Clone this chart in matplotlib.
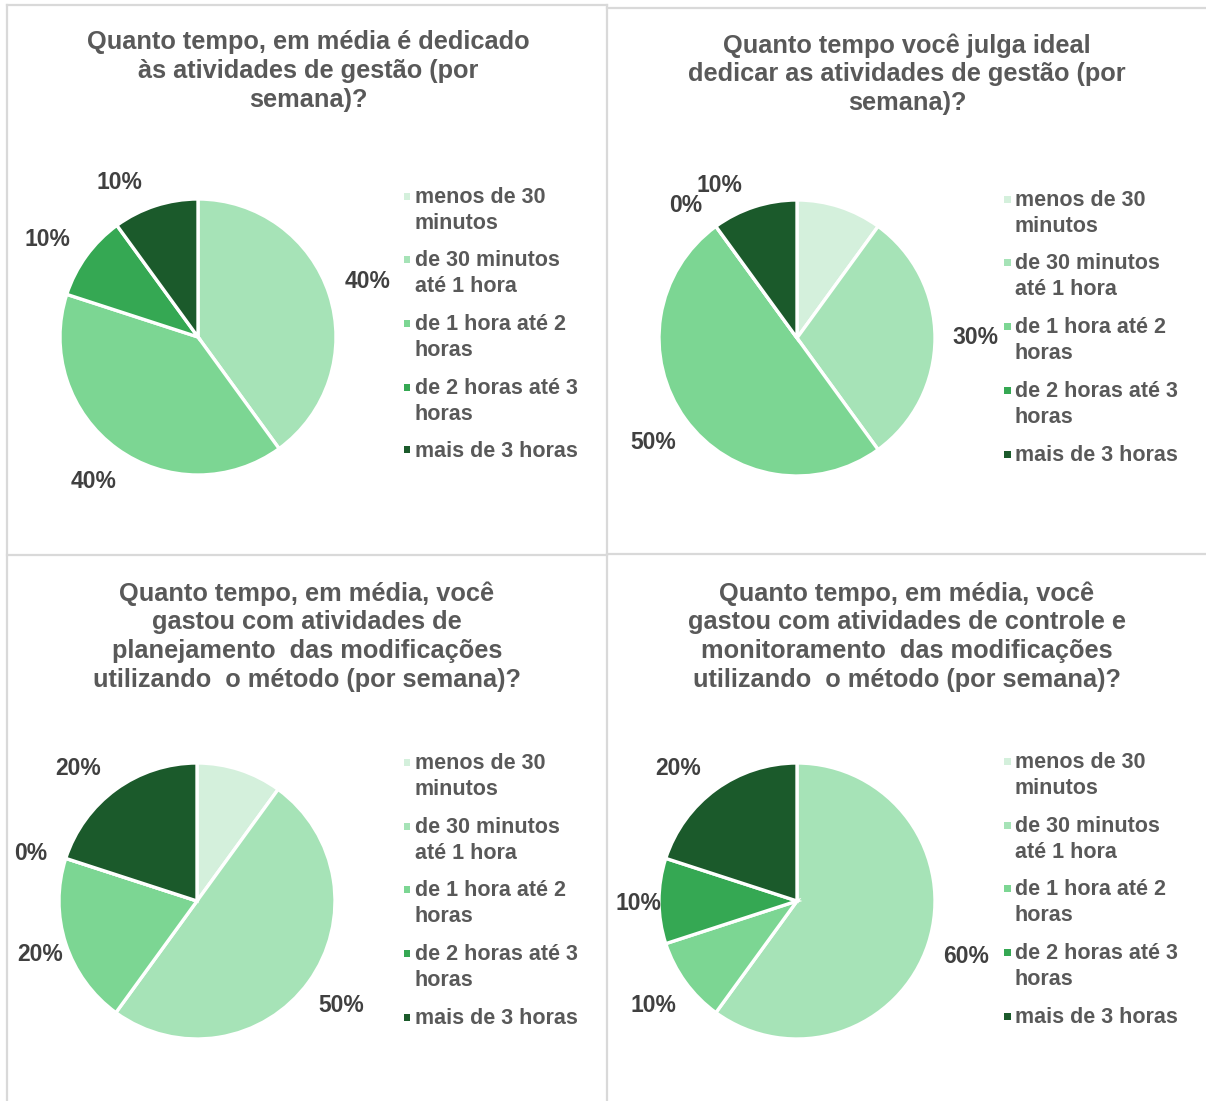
import numpy as np
import matplotlib
matplotlib.use("Agg")
import matplotlib.pyplot as plt
from matplotlib.patches import Rectangle
from matplotlib.lines import Line2D

plt.rcParams['font.family'] = ['Liberation Sans', 'DejaVu Sans']

W, H = 1206, 1101

categories = ["menos de 30\nminutos", "de 30 minutos\naté 1 hora", "de 1 hora até 2\nhoras",
              "de 2 horas até 3\nhoras", "mais de 3 horas"]
colors = ["#d4f0dc", "#a6e3b7", "#7cd693", "#35a853", "#1b5a2b"]

titles = [
    "Quanto tempo, em média é dedicado\nàs atividades de gestão (por\nsemana)?",
    "Quanto tempo você julga ideal\ndedicar as atividades de gestão (por\nsemana)?",
    "Quanto tempo, em média, você\ngastou com atividades de\nplanejamento  das modificações\nutilizando  o método (por semana)?",
    "Quanto tempo, em média, você\ngastou com atividades de controle e\nmonitoramento  das modificações\nutilizando  o método (por semana)?",
]

gestao_atual = [0, 40, 40, 10, 10]
gestao_ideal = [10, 30, 50, 0, 10]
planejamento = [10, 50, 20, 0, 20]
controle = [0, 60, 10, 10, 20]
series = [gestao_atual, gestao_ideal, planejamento, controle]

# which slice labels are shown in each chart
shown = [
    [False, True, True, True, True],
    [False, True, True, True, True],
    [False, True, True, True, True],
    [False, True, True, True, True],
]

# per-label placement tweaks: (angle shift in degrees, distance in radii)
nudges = [
    {3: (3, 1.30), 4: (9, 1.26)},
    {3: (4, 1.25), 4: (9, 1.24)},
    {3: (2, 1.25), 2: (1, 1.20), 4: (6, 1.29)},
    {3: (1, 1.15), 4: (6, 1.29)},
]

# panel geometry in pixels
pie_centers = [(198, 337), (797, 338), (197, 901), (797, 901)]
radius = 138
title_tops = [40, 43, 591, 591]
title_x = [308, 907, 307, 907]
legend_x = [407, 1007, 407, 1007]
legend_y = [[196, 259, 323, 387, 450], [199, 262, 326, 390, 454],
            [762, 826, 889, 953, 1017], [761, 825, 888, 952, 1016]]

fig = plt.figure(figsize=(W / 100, H / 100), dpi=100)


def fx(px):
    return px / W


def fy(py):
    return 1 - py / H


# panel borders
border = "#d9d9d9"
for xs, ys in [([7, 7], [5, H]), ([7, 607], [5, 5]), ([607, 1206], [8, 8]),
               ([607, 607], [5, H]), ([7, 607], [555, 555]), ([607, 1206], [554, 554])]:
    fig.add_artist(Line2D([fx(x) for x in xs], [fy(y) for y in ys], color=border, lw=1.6))

for i, vals in enumerate(series):
    cx, cy = pie_centers[i]
    ax = fig.add_axes([fx(cx - radius), fy(cy + radius), 2 * radius / W, 2 * radius / H])
    wedges, _ = ax.pie(vals, colors=colors, startangle=90, counterclock=False, radius=1,
                       wedgeprops=dict(edgecolor="white", linewidth=2.4))
    ax.set_xlim(-1, 1)
    ax.set_ylim(-1, 1)
    ax.set_aspect("equal")
    ax.axis("off")
    for j, w in enumerate(wedges):
        if not shown[i][j]:
            continue
        mid = (w.theta1 + w.theta2) / 2
        shift, dist = nudges[i].get(j, (0, 1.29))
        ang = np.deg2rad(mid + shift)
        ax.text(dist * np.cos(ang), dist * np.sin(ang), "{}%".format(vals[j]),
                ha="center", va="center", fontsize=16.5, fontweight="bold",
                color="#404040", clip_on=False)

    fig.text(fx(title_x[i]), fy(title_tops[i] - 10), titles[i], ha="center", va="top",
             fontsize=18.3, fontweight="bold", color="#595959", linespacing=1.26)

    for j, lab in enumerate(categories):
        y = legend_y[i][j]
        fig.add_artist(Rectangle((fx(legend_x[i] - 3.5), fy(y + 3.5)), 7 / W, 7 / H,
                                 facecolor=colors[j], edgecolor="none"))
        fig.text(fx(legend_x[i] + 8), fy(y - 9), lab, ha="left", va="top",
                 fontsize=15.5, fontweight="bold", color="#595959", linespacing=1.32)

fig.savefig("out.png", dpi=100)
